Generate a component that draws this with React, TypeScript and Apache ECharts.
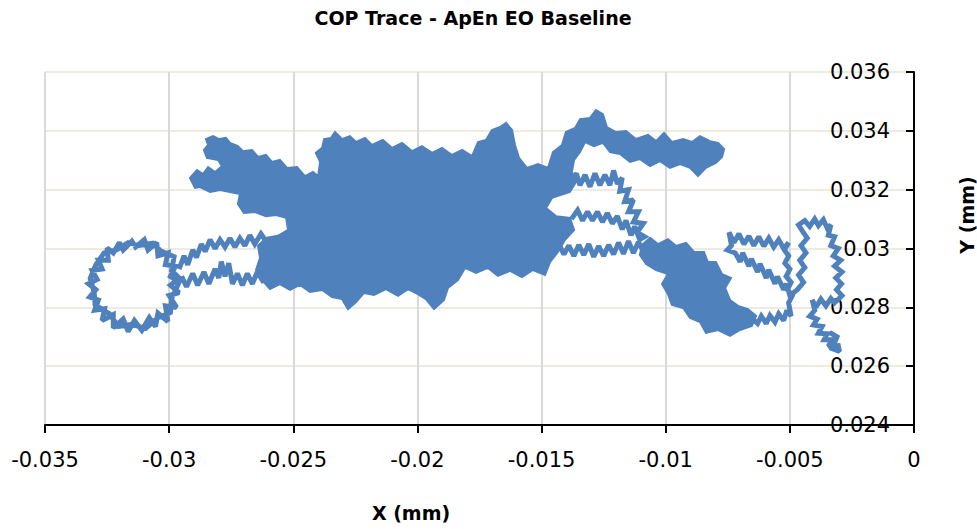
import React, { useEffect, useRef } from "react";
import * as echarts from "echarts";

// ---- Tick labels ----
const xTickLabels = ["-0.035", "-0.03", "-0.025", "-0.02", "-0.015", "-0.01", "-0.005", "0"];
const yTickLabels = ["0.024", "0.026", "0.028", "0.03", "0.032", "0.034", "0.036"];

// ---- COP trace pieces (X mm, Y mm) ----
const leftLoop: number[][] = [
  [-0.02955, 0.02885], [-0.02995, 0.02905], [-0.02975, 0.0294], [-0.03015, 0.02945], [-0.03005, 0.02985],
  [-0.03045, 0.02975], [-0.0305, 0.0302], [-0.03085, 0.02995], [-0.031, 0.0303], [-0.03135, 0.03005],
  [-0.0315, 0.03025], [-0.03185, 0.02995], [-0.032, 0.0302], [-0.03225, 0.02985], [-0.0325, 0.03002],
  [-0.03245, 0.0296], [-0.03285, 0.0296], [-0.0327, 0.0293], [-0.0331, 0.02925], [-0.0329, 0.02895],
  [-0.03325, 0.0288], [-0.03295, 0.0286], [-0.0332, 0.02835], [-0.03285, 0.02825], [-0.033, 0.0279],
  [-0.0326, 0.02795], [-0.0327, 0.02755], [-0.03225, 0.02775], [-0.03225, 0.0273], [-0.03185, 0.0276],
  [-0.03165, 0.02718], [-0.0314, 0.02755], [-0.0311, 0.02722], [-0.0308, 0.02765], [-0.03055, 0.02735],
  [-0.03045, 0.0278], [-0.03005, 0.02752], [-0.03015, 0.02805], [-0.0297, 0.028], [-0.03, 0.0284],
  [-0.0296, 0.0285], [-0.02995, 0.02875], [-0.0296, 0.029],
  [-0.0299, 0.02925], [-0.0298, 0.02972], [-0.03035, 0.02992], [-0.03065, 0.03018], [-0.0312, 0.0301],
  [-0.03165, 0.0302], [-0.03212, 0.02995], [-0.03262, 0.02985], [-0.03295, 0.02945], [-0.03318, 0.02898],
  [-0.03302, 0.02852], [-0.03298, 0.02808], [-0.0324, 0.02778], [-0.03205, 0.02735], [-0.0315, 0.02742],
  [-0.03095, 0.02728], [-0.03045, 0.02765], [-0.02995, 0.02782], [-0.0299, 0.0283], [-0.02968, 0.0287],
  [-0.0295, 0.02905],
];

const lowerLeftStrand: number[][] = [
  [-0.0295, 0.02905], [-0.0293, 0.0287], [-0.02905, 0.02915], [-0.02885, 0.02875], [-0.0286, 0.0292],
  [-0.0284, 0.0288], [-0.02815, 0.0293], [-0.028, 0.029], [-0.0279, 0.02955], [-0.02775, 0.02905],
  [-0.0276, 0.0295], [-0.02745, 0.0288], [-0.02725, 0.02915], [-0.02705, 0.02875], [-0.02685, 0.02915],
  [-0.02665, 0.0288], [-0.02645, 0.0292], [-0.0262, 0.02885], [-0.026, 0.02925],
];

const upperLeftStrand: number[][] = [
  [-0.0296, 0.0293], [-0.0294, 0.02975], [-0.02925, 0.02945], [-0.02905, 0.02995], [-0.0289, 0.0297],
  [-0.0287, 0.03015], [-0.02855, 0.0299], [-0.02835, 0.0303], [-0.02815, 0.03], [-0.02795, 0.0303],
  [-0.02775, 0.03005], [-0.02755, 0.03035], [-0.02735, 0.03005], [-0.02715, 0.03035], [-0.02695, 0.0301],
  [-0.02675, 0.03045], [-0.02655, 0.03015], [-0.0263, 0.0305], [-0.0261, 0.03025],
];

const midRightLoop: number[][] = [
  [-0.0138, 0.0323], [-0.0136, 0.03255], [-0.01345, 0.03215], [-0.01325, 0.0325], [-0.01305, 0.0321],
  [-0.01285, 0.03255], [-0.01265, 0.03215], [-0.01245, 0.0325], [-0.01225, 0.03215], [-0.0121, 0.03265],
  [-0.01195, 0.0322], [-0.01175, 0.0324], [-0.01185, 0.03195], [-0.0115, 0.032], [-0.01165, 0.0316],
  [-0.0113, 0.03165], [-0.0115, 0.03125], [-0.0111, 0.03125], [-0.0113, 0.0309], [-0.0109, 0.03085],
  [-0.01115, 0.03055], [-0.01085, 0.0304], [-0.01105, 0.0303], [-0.01125, 0.03075], [-0.0114, 0.03045],
  [-0.0116, 0.03095], [-0.01175, 0.03065], [-0.01195, 0.0311], [-0.01215, 0.03085], [-0.01235, 0.0312],
  [-0.01255, 0.0309], [-0.01275, 0.03125], [-0.01295, 0.03095], [-0.01315, 0.03125], [-0.01335, 0.03095],
  [-0.01355, 0.0313], [-0.0138, 0.031],
];

const lowerRightStrand: number[][] = [
  [-0.0145, 0.0299], [-0.0143, 0.03015], [-0.0141, 0.0298], [-0.0139, 0.0301], [-0.0137, 0.02975],
  [-0.0135, 0.03012], [-0.0133, 0.02978], [-0.0131, 0.03015], [-0.0129, 0.02972], [-0.0127, 0.03008],
  [-0.0125, 0.02975], [-0.0123, 0.03012], [-0.0121, 0.0298], [-0.0119, 0.0302], [-0.0117, 0.02982],
  [-0.0115, 0.03025], [-0.0113, 0.02985], [-0.0111, 0.03022], [-0.0109, 0.0299], [-0.01075, 0.03015],
];

const farRightTrace: number[][] = [
  [-0.0065, 0.0276], [-0.0063, 0.02745], [-0.00615, 0.0277], [-0.00595, 0.02745], [-0.0058, 0.02772],
  [-0.0056, 0.0275], [-0.00545, 0.02778], [-0.00525, 0.02755], [-0.00512, 0.0279], [-0.00495, 0.0277],
  [-0.00505, 0.02815],
  [-0.0049, 0.0284], [-0.0051, 0.0286], [-0.00495, 0.02885], [-0.00515, 0.02905], [-0.005, 0.0293],
  [-0.0052, 0.0295], [-0.00505, 0.02975], [-0.00522, 0.02995], [-0.00505, 0.0302],
  [-0.00525, 0.03], [-0.00545, 0.0303], [-0.00565, 0.03005], [-0.00585, 0.03035], [-0.00605, 0.03008],
  [-0.00625, 0.0304], [-0.00645, 0.0301], [-0.00665, 0.03042], [-0.00685, 0.03015], [-0.00705, 0.0305],
  [-0.00725, 0.0302], [-0.00745, 0.03055], [-0.00735, 0.0301], [-0.00752, 0.02995],
  [-0.0072, 0.02985], [-0.007, 0.02955], [-0.0069, 0.02985], [-0.00665, 0.0294], [-0.00655, 0.02965],
  [-0.0063, 0.0292], [-0.0062, 0.02948], [-0.00595, 0.029], [-0.00585, 0.02928], [-0.0056, 0.0288],
  [-0.0055, 0.02905], [-0.00525, 0.0286], [-0.00515, 0.0288], [-0.005, 0.0284],
  [-0.0047, 0.0286], [-0.00445, 0.02885], [-0.00465, 0.0291], [-0.0044, 0.02935], [-0.0046, 0.0296],
  [-0.00435, 0.02985], [-0.00455, 0.0301], [-0.0043, 0.03035], [-0.0045, 0.0306],
  [-0.00465, 0.0308], [-0.0044, 0.03095], [-0.0042, 0.03075], [-0.004, 0.031], [-0.00385, 0.03078],
  [-0.00365, 0.03098], [-0.0035, 0.0307], [-0.00335, 0.0308], [-0.00345, 0.03045], [-0.0032, 0.0304],
  [-0.00335, 0.0301], [-0.00305, 0.03], [-0.00325, 0.02975], [-0.00295, 0.0296], [-0.0032, 0.0294],
  [-0.0029, 0.0292], [-0.00315, 0.029], [-0.00292, 0.0288], [-0.00312, 0.0286], [-0.0029, 0.0284],
  [-0.0032, 0.02815], [-0.00335, 0.0283], [-0.00355, 0.02805], [-0.00375, 0.02828], [-0.00395, 0.028],
  [-0.0041, 0.02825],
  [-0.004, 0.0279], [-0.0042, 0.0277], [-0.0039, 0.0276], [-0.00405, 0.0274], [-0.0037, 0.02735],
  [-0.00385, 0.02712], [-0.0035, 0.0271], [-0.00362, 0.0269], [-0.0033, 0.0269], [-0.00345, 0.02668],
  [-0.00305, 0.0267], [-0.003, 0.0265], [-0.0033, 0.0266], [-0.0031, 0.027], [-0.0034, 0.02715],
];

// ---- Outlines of the densely over-drawn regions of the trace ----
const centralCloud: number[][] = [
  [-0.02916, 0.0324], [-0.02888, 0.03267], [-0.02864, 0.03253], [-0.02843, 0.03277], [-0.02815, 0.0326],
  [-0.02787, 0.0328], [-0.02803, 0.03301], [-0.02848, 0.03308], [-0.0286, 0.03335], [-0.02843, 0.03352],
  [-0.02852, 0.03372], [-0.02823, 0.03382], [-0.02799, 0.03372], [-0.02771, 0.03376], [-0.02755, 0.03359],
  [-0.02723, 0.03348], [-0.02703, 0.03331], [-0.02666, 0.03335], [-0.02642, 0.03311], [-0.0261, 0.03318],
  [-0.02586, 0.03294], [-0.02554, 0.03301], [-0.02525, 0.03274], [-0.02485, 0.03277], [-0.02453, 0.03246],
  [-0.02421, 0.0326], [-0.024, 0.03246], [-0.02392, 0.03294], [-0.02409, 0.03325], [-0.02384, 0.03342],
  [-0.02376, 0.03372], [-0.02348, 0.03376], [-0.02332, 0.03396], [-0.02304, 0.03372], [-0.02272, 0.03382],
  [-0.02247, 0.03362], [-0.02211, 0.03376], [-0.02183, 0.03352], [-0.02139, 0.03369], [-0.02102, 0.03342],
  [-0.02062, 0.03359], [-0.02022, 0.03331], [-0.01982, 0.03348], [-0.01941, 0.03325], [-0.01901, 0.03342],
  [-0.01861, 0.03318], [-0.0182, 0.03335], [-0.0178, 0.03314], [-0.01756, 0.03362], [-0.01724, 0.03369],
  [-0.017, 0.03403], [-0.01667, 0.03413], [-0.01643, 0.03427], [-0.01619, 0.03403], [-0.01607, 0.03352],
  [-0.01591, 0.03308], [-0.01559, 0.03274], [-0.01514, 0.03287], [-0.01474, 0.03274], [-0.01454, 0.03328],
  [-0.01418, 0.03352], [-0.01402, 0.03396], [-0.01365, 0.0341], [-0.01345, 0.0344], [-0.01305, 0.03444],
  [-0.01281, 0.03471], [-0.01253, 0.03457], [-0.01237, 0.03413], [-0.012, 0.03396], [-0.0116, 0.03399],
  [-0.0112, 0.03372], [-0.01071, 0.03386], [-0.01039, 0.03365], [-0.01007, 0.03393], [-0.00975, 0.03362],
  [-0.0093, 0.03372], [-0.00894, 0.03362], [-0.00862, 0.03382], [-0.00822, 0.03365], [-0.00789, 0.03359],
  [-0.00765, 0.03338], [-0.00773, 0.03311], [-0.00798, 0.03291], [-0.00838, 0.03274], [-0.0087, 0.03246],
  [-0.00902, 0.03274], [-0.00942, 0.03287], [-0.00983, 0.03274], [-0.01023, 0.03297], [-0.01063, 0.0328],
  [-0.01104, 0.03304], [-0.01144, 0.03294], [-0.01184, 0.03321], [-0.01224, 0.03328], [-0.01253, 0.03359],
  [-0.01289, 0.03348], [-0.01325, 0.03362], [-0.01345, 0.03328], [-0.01369, 0.03301], [-0.01378, 0.0326],
  [-0.01361, 0.03226], [-0.01386, 0.03192], [-0.01458, 0.03172], [-0.01482, 0.03138], [-0.01442, 0.0311],
  [-0.01386, 0.03104], [-0.01369, 0.03063], [-0.01406, 0.03029], [-0.01434, 0.02988], [-0.01466, 0.02954],
  [-0.01486, 0.0291], [-0.01535, 0.02927], [-0.01579, 0.02903], [-0.01627, 0.02924], [-0.01676, 0.02907],
  [-0.01716, 0.02934], [-0.01764, 0.02917], [-0.01808, 0.02934], [-0.01837, 0.02893], [-0.01877, 0.02866],
  [-0.01893, 0.02825], [-0.01933, 0.02794], [-0.01966, 0.02828], [-0.01998, 0.02845], [-0.02038, 0.02862],
  [-0.02078, 0.02839], [-0.02127, 0.02862], [-0.02175, 0.02842], [-0.02215, 0.02849], [-0.02247, 0.02818],
  [-0.0228, 0.02794], [-0.02304, 0.02828], [-0.02344, 0.02835], [-0.02384, 0.02859], [-0.02433, 0.02852],
  [-0.02473, 0.02876], [-0.02513, 0.02859], [-0.02554, 0.02879], [-0.02594, 0.02862], [-0.02626, 0.02893],
  [-0.0265, 0.02927], [-0.02634, 0.02968], [-0.02642, 0.03009], [-0.0261, 0.03036], [-0.02562, 0.03043],
  [-0.02521, 0.03063], [-0.02529, 0.03104], [-0.0257, 0.03114], [-0.0261, 0.0311], [-0.02654, 0.03124],
  [-0.02699, 0.03121], [-0.02723, 0.03151], [-0.02715, 0.03185], [-0.02755, 0.03192], [-0.02795, 0.03199],
  [-0.02835, 0.03192], [-0.02876, 0.03209], [-0.02896, 0.03206],
];

const rightCloud: number[][] = [
  [-0.01096, 0.03012], [-0.01063, 0.03036], [-0.01031, 0.03015], [-0.00991, 0.03032], [-0.00959, 0.03009],
  [-0.00918, 0.03019], [-0.00886, 0.02988], [-0.00846, 0.02988], [-0.0083, 0.02954], [-0.00798, 0.02954],
  [-0.00773, 0.02913], [-0.00737, 0.029], [-0.00761, 0.02866], [-0.00741, 0.02825], [-0.00709, 0.02805],
  [-0.00669, 0.02794], [-0.00636, 0.02771], [-0.00653, 0.02737], [-0.00701, 0.02723], [-0.00741, 0.02703],
  [-0.00789, 0.02723], [-0.00838, 0.02713], [-0.00862, 0.0275], [-0.00902, 0.02764], [-0.0093, 0.02798],
  [-0.00975, 0.02808], [-0.00991, 0.02845], [-0.01015, 0.02879], [-0.00991, 0.02913], [-0.01039, 0.02927],
  [-0.01079, 0.02947], [-0.01104, 0.02978],
];

const TRACE_COLOR = "#4f81bd";
const FONT = "DejaVu Sans";

function traceSeries(name: string, data: number[][]) {
  return {
    name,
    type: "line",
    data,
    showSymbol: false,
    symbol: "none",
    smooth: false,
    lineStyle: { color: TRACE_COLOR, width: 5, join: "miter", miterLimit: 2 },
    silent: true,
    z: 3,
  };
}

function cloudSeries(name: string, data: number[][]) {
  return {
    name,
    type: "custom",
    data,
    silent: true,
    z: 2,
    renderItem: (params: any, api: any) => {
      if (params.dataIndex !== 0) return null;
      const pts = data.map((p) => api.coord(p));
      return {
        type: "polygon",
        shape: { points: pts },
        style: { fill: TRACE_COLOR, stroke: TRACE_COLOR, lineWidth: 2, lineJoin: "miter", miterLimit: 3 },
      };
    },
  };
}

function findLabel(labels: string[], v: number) {
  const hit = labels.find((l) => Math.abs(Number(l) - v) < 1e-9);
  return hit !== undefined ? hit : "";
}

export default function App() {
  const ref = useRef<HTMLDivElement>(null);

  useEffect(() => {
    if (!ref.current) return;
    const chart = echarts.init(ref.current, undefined, { renderer: "svg" });
    chart.setOption({
      animation: false,
      backgroundColor: "#ffffff",
      grid: { left: 45, right: 63, top: 72, bottom: 104, containLabel: false },
      xAxis: {
        type: "value",
        min: -0.035,
        max: 0,
        interval: 0.005,
        position: "bottom",
        axisLine: { show: true, onZero: false, lineStyle: { color: "#000", width: 2 } },
        axisTick: { show: true, inside: false, length: 8, lineStyle: { color: "#000", width: 2 } },
        axisLabel: {
          color: "#000",
          fontSize: 21,
          fontFamily: FONT,
          margin: 24,
          showMinLabel: true,
          showMaxLabel: true,
          formatter: (v: number) => findLabel(xTickLabels, v),
        },
        splitLine: { show: true, lineStyle: { color: "#d9d9d9", width: 2 } },
      },
      yAxis: {
        type: "value",
        min: 0.024,
        max: 0.036,
        interval: 0.002,
        position: "right",
        axisLine: { show: true, onZero: false, lineStyle: { color: "#000", width: 2 } },
        axisTick: { show: true, inside: true, length: 8, lineStyle: { color: "#000", width: 2 } },
        axisLabel: {
          inside: true,
          color: "#000",
          fontSize: 21,
          fontFamily: FONT,
          margin: 24,
          showMinLabel: true,
          showMaxLabel: true,
          formatter: (v: number) => findLabel(yTickLabels, v),
        },
        splitLine: { show: true, lineStyle: { color: "#eeece1", width: 2 } },
      },
      graphic: [
        {
          type: "text",
          x: 473,
          y: 18,
          style: {
            text: "COP Trace - ApEn EO Baseline",
            fontSize: 19,
            fontWeight: "bold",
            fontFamily: FONT,
            fill: "#000",
            align: "center",
            verticalAlign: "middle",
          },
        },
        {
          type: "text",
          x: 411,
          y: 513,
          style: {
            text: "X (mm)",
            fontSize: 19,
            fontWeight: "bold",
            fontFamily: FONT,
            fill: "#000",
            align: "center",
            verticalAlign: "middle",
          },
        },
        {
          type: "text",
          x: 967,
          y: 215,
          rotation: Math.PI / 2,
          style: {
            text: "Y (mm)",
            fontSize: 19,
            fontWeight: "bold",
            fontFamily: FONT,
            fill: "#000",
            align: "center",
            verticalAlign: "middle",
          },
        },
      ],
      series: [
        cloudSeries("centralCloud", centralCloud),
        cloudSeries("rightCloud", rightCloud),
        traceSeries("leftLoop", leftLoop),
        traceSeries("lowerLeftStrand", lowerLeftStrand),
        traceSeries("upperLeftStrand", upperLeftStrand),
        traceSeries("midRightLoop", midRightLoop),
        traceSeries("lowerRightStrand", lowerRightStrand),
        traceSeries("farRightTrace", farRightTrace),
      ],
    });
    return () => chart.dispose();
  }, []);

  return (
    <div
      ref={ref}
      style={{ position: "fixed", left: 0, top: 0, width: 977, height: 529, background: "#fff" }}
    />
  );
}
